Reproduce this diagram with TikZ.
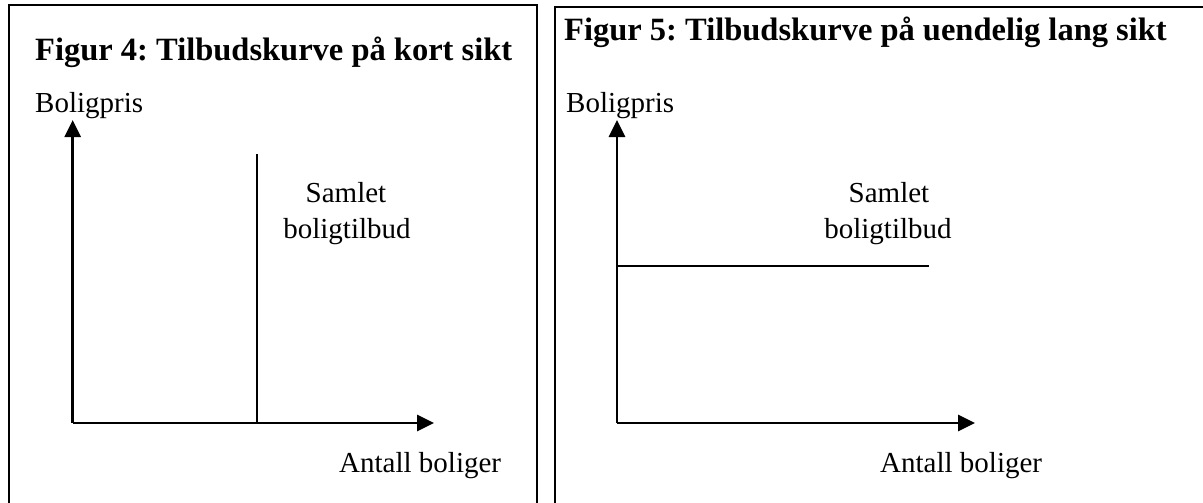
\documentclass[tikz,border=0pt]{standalone}
\usepackage{fontspec}
\setmainfont{Liberation Serif}
\usetikzlibrary{arrows.meta}
\frenchspacing
\tikzset{
  frame/.style={line width=2pt},
  axis/.style={line width=2.8pt,-{Triangle[length=17pt,width=16pt]}},
  curve/.style={line width=2pt},
  ttl/.style={inner sep=0pt,anchor=base west,font=\bfseries\fontsize{32.5}{38}\selectfont},
  lbl/.style={inner sep=0pt,anchor=base west,font=\fontsize{29}{35}\selectfont},
  clbl/.style={inner sep=0pt,anchor=base,font=\fontsize{29}{35}\selectfont}
}
\begin{document}
\frenchspacing
\begin{tikzpicture}[x=1pt,y=-1pt]
\useasboundingbox[fill=white] (0,0) rectangle (1203,503);
\clip (0,0) rectangle (1203,503);
% frames
\coordinate (fa1) at (8.5,520);
\coordinate (fa2) at (8.5,5.5);
\coordinate (fa3) at (536.5,5.5);
\coordinate (fa4) at (536.5,520);
\draw[frame] (fa1) -- (fa2) -- (fa3) -- (fa4);
\coordinate (fb1) at (555,520);
\coordinate (fb2) at (555,7.5);
\coordinate (fb3) at (1220,7.5);
\draw[frame] (fb1) -- (fb2) -- (fb3);
% left panel
\node[ttl] (t4) at (35,61) {Figur 4: Tilbudskurve på kort sikt};
\node[lbl] (py1) at (35,112) {Boligpris};
\coordinate (o1) at (72.7,423);
\coordinate (y1) at (72.7,120);
\coordinate (x1) at (434,423);
\draw[axis] (o1) -- (y1);
\draw[axis] (o1) -- (x1);
\coordinate (v1) at (256.5,154);
\coordinate (v2) at (256.5,423);
\draw[curve] (v1) -- (v2);
\node[clbl] (s1) at (346,202) {Samlet};
\node[clbl] (b1) at (347,238) {boligtilbud};
\node[lbl] (q1) at (339,472) {Antall boliger};
% right panel
\node[ttl] (t5) at (564,41) {Figur 5: Tilbudskurve på uendelig lang sikt};
\node[lbl] (py2) at (566,112) {Boligpris};
\coordinate (o2) at (617,423);
\coordinate (y2) at (617,120);
\coordinate (x2) at (975,423);
\draw[axis] (o2) -- (y2);
\draw[axis] (o2) -- (x2);
\coordinate (h1) at (617,266);
\coordinate (h2) at (929,266);
\draw[curve] (h1) -- (h2);
\node[clbl] (s2) at (889,202) {Samlet};
\node[clbl] (b2) at (888,238) {boligtilbud};
\node[lbl] (q2) at (880,472) {Antall boliger};
\end{tikzpicture}
\end{document}
